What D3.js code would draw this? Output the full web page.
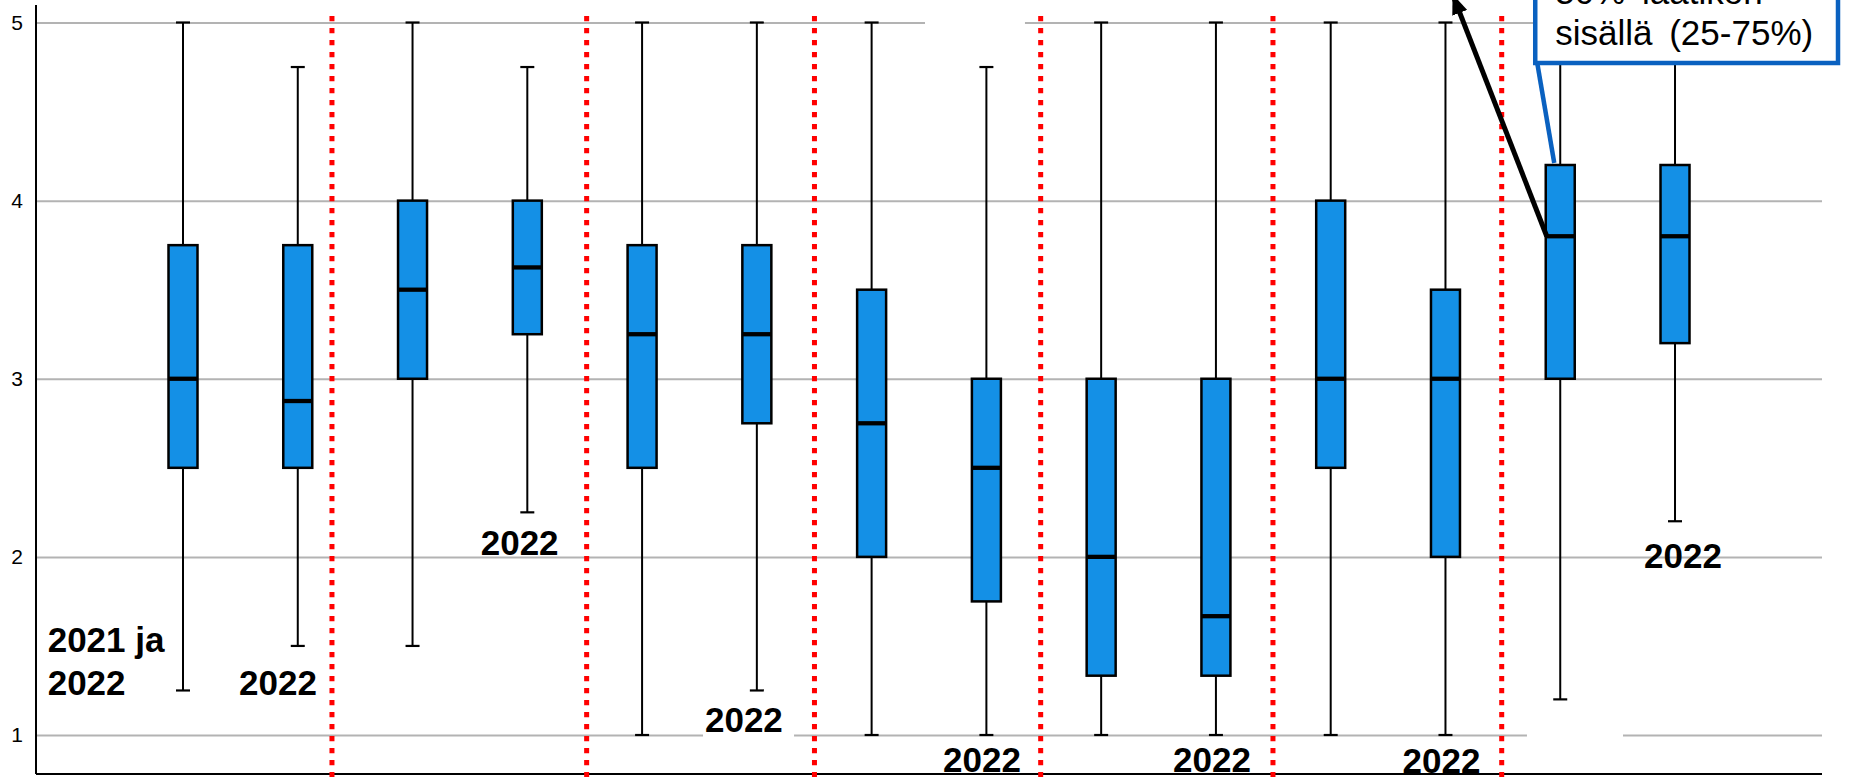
<!DOCTYPE html>
<html><head><meta charset="utf-8">
<script src="https://cdn.jsdelivr.net/npm/d3@7"></script>
<style>html,body{margin:0;padding:0;background:#fff;overflow:hidden}</style>
</head><body>
<svg id="chart" width="1851" height="778"></svg>
<script>
// ---------- data ----------
const categories = ["R1 2021", "R1 2022", "R2 2021", "R2 2022", "R3 2021", "R3 2022", "R4 2021",
                    "R4 2022", "R5 2021", "R5 2022", "R6 2021", "R6 2022", "R7 2021", "R7 2022"];
const whiskerHigh = [5, 4.75, 5, 4.75, 5, 5, 5, 4.75, 5, 5, 5, 5, 5, 5];
const q3Values    = [3.75, 3.75, 4, 4, 3.75, 3.75, 3.5, 3, 3, 3, 4, 3.5, 4.2, 4.2];
const medianVals  = [3, 2.875, 3.5, 3.625, 3.25, 3.25, 2.75, 2.5, 2, 1.667, 3, 3, 3.8, 3.8];
const q1Values    = [2.5, 2.5, 3, 3.25, 2.5, 2.75, 2, 1.75, 1.333, 1.333, 2.5, 2, 3, 3.2];
const whiskerLow  = [1.25, 1.5, 1.5, 2.25, 1, 1.25, 1, 1, 1, 1, 1, 1, 1.2, 2.2];
const yTicks = [1, 2, 3, 4, 5];
const yearLabels = ["2021 ja", "2022", "2022", "2022", "2022", "2022", "2022", "2022", "2022"];
const calloutLines = ["50% laatikon", "sisällä (25-75%)"];

// ---------- layout (index / value coordinates) ----------
const separatorAt = [1.298, 3.517, 5.502, 7.473, 9.497, 11.49];
const labelAt = [[-1.179, 1.467], [-1.179, 1.224], [0.488, 1.224], [2.594, 2.010], [4.548, 1.018],
                 [6.622, 0.793], [8.626, 0.793], [10.626, 0.786], [12.730, 1.937]];
const gridMasks = [[1, 4.531, 5.324], [1, 11.71, 12.547], [5, 6.465, 7.336]];

const svg = d3.select("#chart");
const plotL = 36, plotR = 1822, plotB = 774, plotT = 5;
const x = d3.scaleLinear().domain([0, 13]).range([183, 183 + 13 * 114.77]);
const y = d3.scaleLinear().domain([1, 5]).range([735, 22.5]);
const boxW = 29, capW = 14;
const FONT = "'Liberation Sans', Arial, Helvetica, sans-serif";

// grid + ticks via axis
const gAxis = svg.append("g").attr("transform", `translate(${plotL},0)`)
  .call(d3.axisLeft(y).tickValues(yTicks).tickFormat(d3.format("d"))
        .tickSizeInner(-(plotR - plotL)).tickSizeOuter(0).tickPadding(13));
gAxis.select(".domain").remove();
gAxis.selectAll(".tick line").attr("stroke", "#b3b3b3").attr("stroke-width", 2);
gAxis.selectAll(".tick text").attr("font-family", FONT).attr("font-size", 21).attr("fill", "#000");

// masks over gridlines (label backgrounds)
svg.append("g").selectAll("rect").data(gridMasks).join("rect")
  .attr("x", d => x(d[1])).attr("width", d => x(d[2]) - x(d[1]))
  .attr("y", d => y(d[0]) - 3).attr("height", 6).attr("fill", "#fff");

// axis lines
svg.append("line").attr("x1", plotL).attr("x2", plotL).attr("y1", plotT).attr("y2", plotB)
  .attr("stroke", "#000").attr("stroke-width", 2);
svg.append("line").attr("x1", plotL).attr("x2", plotR).attr("y1", plotB).attr("y2", plotB)
  .attr("stroke", "#000").attr("stroke-width", 2);

// red dotted separators
svg.append("g").selectAll("line").data(separatorAt).join("line")
  .attr("x1", d => x(d)).attr("x2", d => x(d)).attr("y1", 16).attr("y2", 777)
  .attr("stroke", "#ff0000").attr("stroke-width", 5).attr("stroke-dasharray", "5.3,6.7");

// boxes
const idx = d3.range(categories.length);
const gb = svg.append("g");
gb.selectAll("line.wh").data(idx).join("line").attr("class", "wh")
  .attr("x1", i => x(i)).attr("x2", i => x(i))
  .attr("y1", i => y(whiskerHigh[i])).attr("y2", i => y(whiskerLow[i]))
  .attr("stroke", "#000").attr("stroke-width", 2);
gb.selectAll("line.capH").data(idx).join("line").attr("class", "capH")
  .attr("x1", i => x(i) - capW / 2).attr("x2", i => x(i) + capW / 2)
  .attr("y1", i => y(whiskerHigh[i])).attr("y2", i => y(whiskerHigh[i]))
  .attr("stroke", "#000").attr("stroke-width", 2.2);
gb.selectAll("line.capL").data(idx).join("line").attr("class", "capL")
  .attr("x1", i => x(i) - capW / 2).attr("x2", i => x(i) + capW / 2)
  .attr("y1", i => y(whiskerLow[i])).attr("y2", i => y(whiskerLow[i]))
  .attr("stroke", "#000").attr("stroke-width", 2.2);
gb.selectAll("rect").data(idx).join("rect")
  .attr("x", i => x(i) - boxW / 2).attr("width", boxW)
  .attr("y", i => y(q3Values[i])).attr("height", i => y(q1Values[i]) - y(q3Values[i]))
  .attr("fill", "#1490e6").attr("stroke", "#000").attr("stroke-width", 2.5);
gb.selectAll("line.med").data(idx).join("line").attr("class", "med")
  .attr("x1", i => x(i) - boxW / 2).attr("x2", i => x(i) + boxW / 2)
  .attr("y1", i => y(medianVals[i])).attr("y2", i => y(medianVals[i]))
  .attr("stroke", "#000").attr("stroke-width", 4.3);

// year labels
svg.append("g").selectAll("text").data(yearLabels).join("text")
  .attr("x", (d, i) => x(labelAt[i][0])).attr("y", (d, i) => y(labelAt[i][1]))
  .attr("font-family", FONT).attr("font-weight", "bold").attr("font-size", 35)
  .attr("fill", "#000").text(d => d);

// callout arrow (black)
const defs = svg.append("defs");
defs.append("marker").attr("id", "ah").attr("markerUnits", "userSpaceOnUse")
  .attr("viewBox", "0 0 20 16").attr("refX", 18).attr("refY", 8)
  .attr("markerWidth", 20).attr("markerHeight", 16).attr("orient", "auto")
  .append("path").attr("d", "M0,0 L20,8 L0,16 Z").attr("fill", "#000");
const ci = 12;
svg.append("line")
  .attr("x1", x(ci) - boxW / 2 + 1).attr("y1", y(medianVals[ci]))
  .attr("x2", x(ci) - 107).attr("y2", -4)
  .attr("stroke", "#000").attr("stroke-width", 5).attr("marker-end", "url(#ah)");

// blue callout box
const bx0 = x(ci) - 25, bx1 = 1838, byB = 63;
svg.append("line")
  .attr("x1", bx0 + 2).attr("y1", byB)
  .attr("x2", x(ci) - 6).attr("y2", y(q3Values[ci]) - 2)
  .attr("stroke", "#0a61c0").attr("stroke-width", 4.5);
svg.append("rect").attr("x", bx0).attr("y", -20).attr("width", bx1 - bx0).attr("height", byB + 20)
  .attr("fill", "#fff").attr("stroke", "#0a61c0").attr("stroke-width", 4.5);
svg.append("g").selectAll("text").data(calloutLines).join("text")
  .attr("x", bx0 + 20).attr("y", (d, i) => 4 + i * 41)
  .attr("font-family", FONT).attr("font-size", 35).attr("word-spacing", 7)
  .attr("fill", "#000").text(d => d);
</script>
</body></html>
